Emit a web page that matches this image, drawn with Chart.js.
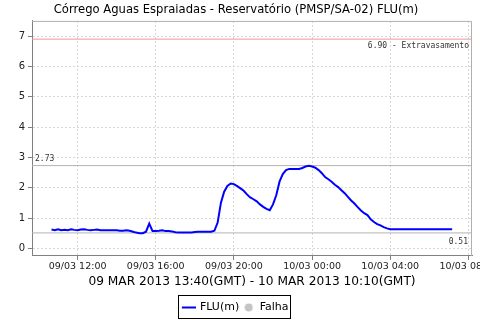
<!DOCTYPE html>
<html lang="pt">
<head>
<meta charset="UTF-8">
<title>FLU(m)</title>
<style>
  html, body { margin: 0; padding: 0; background: #fff; }
  #wrap { width: 480px; height: 320px; }
</style>
</head>
<body>
<div id="wrap"><canvas id="chart" width="480" height="320"></canvas></div>
<script src="https://cdn.jsdelivr.net/npm/chart.js"></script>
<script>
// leituras a cada 10 min, tempo em minutos desde 09/03 00:00 (hora local)
var startMinute = 640;   // 09/03 10:40
var stepMinutes = 10;
var fluValues = [
    0.62, 0.60,
    0.63, 0.60, 0.61, 0.60, 0.63, 0.61,
    0.60, 0.62, 0.63, 0.61, 0.60, 0.61,
    0.62, 0.60, 0.60, 0.60, 0.60, 0.60,
    0.60, 0.58, 0.58, 0.60, 0.58, 0.55,
    0.52, 0.50, 0.50, 0.55, 0.82, 0.57,
    0.57, 0.58, 0.60, 0.57, 0.57, 0.56,
    0.53, 0.52, 0.52, 0.52, 0.52, 0.52,
    0.54, 0.55, 0.55, 0.55, 0.55, 0.55,
    0.58, 0.85, 1.50, 1.87, 2.06, 2.14,
    2.12, 2.05, 1.98, 1.90, 1.78, 1.68,
    1.62, 1.55, 1.45, 1.37, 1.30, 1.26,
    1.45, 1.75, 2.20, 2.45, 2.58, 2.62,
    2.62, 2.62, 2.62, 2.65, 2.70, 2.72,
    2.70, 2.66, 2.58, 2.48, 2.35, 2.28,
    2.20, 2.10, 2.02, 1.92, 1.82, 1.70,
    1.58, 1.48, 1.36, 1.25, 1.16, 1.10,
    0.96, 0.87, 0.80, 0.76, 0.70, 0.66,
    0.63, 0.63, 0.63, 0.63, 0.63, 0.63,
    0.63, 0.63, 0.63, 0.63, 0.63, 0.63,
    0.63, 0.63, 0.63, 0.63, 0.63, 0.63,
    0.63, 0.63
];
var xTickValues = [720, 960, 1200, 1440, 1680, 1920];
var xTickLabels = ['09/03 12:00', '09/03 16:00', '09/03 20:00', '10/03 00:00', '10/03 04:00', '10/03 08:00'];
var yTickValues = [0, 1, 2, 3, 4, 5, 6, 7];
var refLevels = [6.90, 2.73, 0.51];
var refLabels = ['6.90 - Extravasamento', '2.73', '0.51'];
var refColors = ['rgb(240,150,150)', '#b4b4b4', '#b4b4b4'];

var xMin = 580, xMax = 1931;
var yMin = -0.25, yMax = 7.5;

var fluPoints = fluValues.map(function(v, i) {
    return { x: startMinute + i * stepMinutes, y: v };
});

// bolinha cinza da legenda "Falha"
var dot = document.createElement('canvas');
dot.width = 9; dot.height = 9;
var dctx = dot.getContext('2d');
dctx.fillStyle = '#c4c4c4';
dctx.beginPath();
dctx.arc(4.5, 4.5, 4, 0, Math.PI * 2);
dctx.fill();

var datasets = [
    { label: 'FLU(m)', data: fluPoints, borderColor: '#0000ff', backgroundColor: '#0000ff',
      borderWidth: 2, pointRadius: 0, pointStyle: 'line', order: 0 },
    { label: 'Falha', data: [], borderColor: '#c4c4c4', backgroundColor: '#c4c4c4',
      pointStyle: dot, order: 1 }
];
refLevels.forEach(function(level, i) {
    datasets.push({
        label: refLabels[i],
        data: [{ x: xMin, y: level }, { x: xMax, y: level }],
        borderColor: refColors[i], borderWidth: 1, pointRadius: 0, order: 2
    });
});

var extras = {
    id: 'extras',
    afterDatasetsDraw: function(chart) {
        var ctx = chart.ctx, a = chart.chartArea, ys = chart.scales.y;
        ctx.save();
        ctx.strokeStyle = '#b0b0b0';
        ctx.lineWidth = 1;
        ctx.beginPath();
        ctx.moveTo(a.left, a.top + 0.5);
        ctx.lineTo(a.right - 0.5, a.top + 0.5);
        ctx.lineTo(a.right - 0.5, a.bottom);
        ctx.stroke();

        ctx.font = '8px "DejaVu Sans Mono"';
        ctx.fillStyle = '#333';
        ctx.textBaseline = 'middle';
        ctx.textAlign = 'right';
        ctx.fillText(refLabels[0], a.right - 3, ys.getPixelForValue(refLevels[0]) + 7);
        ctx.textAlign = 'left';
        ctx.fillText(refLabels[1], a.left + 3, ys.getPixelForValue(refLevels[1]) - 7);
        ctx.textAlign = 'right';
        ctx.fillText(refLabels[2], a.right - 4, ys.getPixelForValue(refLevels[2]) + 9);
        ctx.restore();
    },
    afterDraw: function(chart) {
        var boxes = chart.legend.legendHitBoxes;
        if (!boxes || !boxes.length) return;
        var l = Infinity, r = -Infinity, t = Infinity, b = -Infinity;
        boxes.forEach(function(h) {
            l = Math.min(l, h.left); r = Math.max(r, h.left + h.width);
            t = Math.min(t, h.top); b = Math.max(b, h.top + h.height);
        });
        var ctx = chart.ctx;
        ctx.save();
        ctx.strokeStyle = '#000';
        ctx.lineWidth = 1;
        ctx.strokeRect(Math.round(l) - 4.5, Math.round(t) - 6.5, Math.round(r - l) + 7, Math.round(b - t) + 12);
        ctx.restore();
    }
};

new Chart(document.getElementById('chart'), {
    type: 'line',
    data: { datasets: datasets },
    plugins: [extras],
    options: {
        responsive: false,
        animation: false,
        layout: { padding: { left: 0, right: 8, top: 0, bottom: -3 } },
        plugins: {
            title: {
                display: true,
                text: 'Córrego Aguas Espraiadas - Reservatório (PMSP/SA-02) FLU(m)',
                color: '#000',
                font: { family: 'DejaVu Sans', size: 11.6, weight: 'normal' },
                padding: { top: 3, bottom: 4 }
            },
            legend: {
                position: 'bottom',
                labels: {
                    usePointStyle: true,
                    boxWidth: 12,
                    boxHeight: 10,
                    padding: 4,
                    color: '#000',
                    font: { family: 'DejaVu Sans', size: 11 },
                    filter: function(item) { return item.datasetIndex < 2; }
                }
            },
            tooltip: { enabled: false }
        },
        scales: {
            x: {
                type: 'linear',
                min: xMin,
                max: xMax,
                afterBuildTicks: function(scale) {
                    scale.ticks = xTickValues.map(function(v) { return { value: v }; });
                },
                afterFit: function(scale) { scale.paddingRight = 0; },
                ticks: {
                    autoSkip: false,
                    maxRotation: 0,
                    padding: 1,
                    color: '#222',
                    font: { family: 'DejaVu Sans', size: 9.5 },
                    callback: function(v) { return xTickLabels[xTickValues.indexOf(v)]; }
                },
                grid: { color: '#d8d8d8', tickColor: '#808080', tickLength: 4, tickBorderDash: [] },
                border: { color: '#808080', dash: [2, 2] },
                title: {
                    display: true,
                    text: '09 MAR 2013 13:40(GMT) - 10 MAR 2013 10:10(GMT)',
                    color: '#000',
                    font: { family: 'DejaVu Sans', size: 12.2 },
                    padding: { top: 1, bottom: 9 }
                }
            },
            y: {
                min: yMin,
                max: yMax,
                afterBuildTicks: function(scale) {
                    scale.ticks = yTickValues.map(function(v) { return { value: v }; });
                },
                afterFit: function(scale) { scale.width = 32; },
                ticks: {
                    padding: 3,
                    color: '#222',
                    font: { family: 'DejaVu Sans', size: 10 }
                },
                grid: { color: '#d8d8d8', tickColor: '#808080', tickLength: 4, tickBorderDash: [] },
                border: { color: '#808080', dash: [2, 2] }
            }
        }
    }
});
</script>
</body>
</html>
